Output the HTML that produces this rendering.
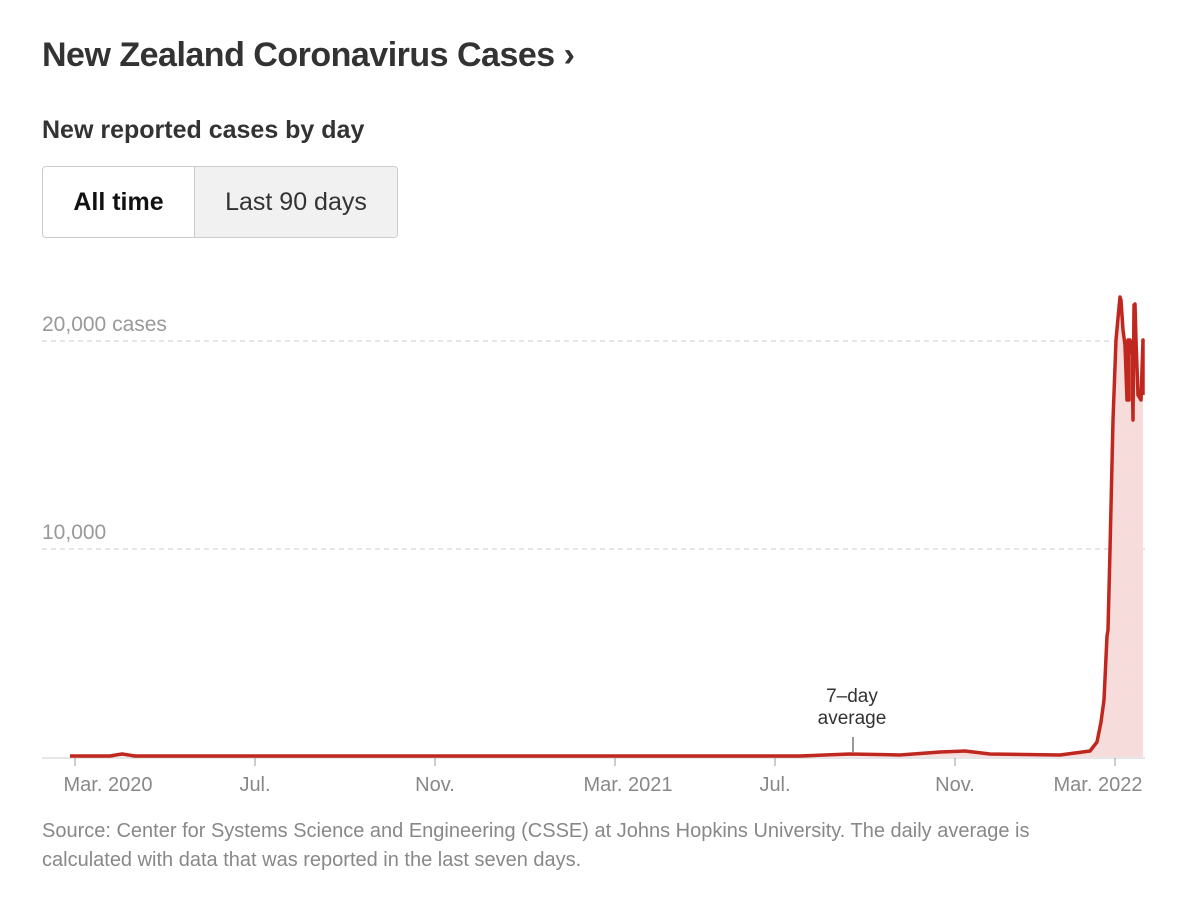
<!DOCTYPE html>
<html><head><meta charset="utf-8"><style>
body{margin:0;width:1200px;height:915px;background:#fff;position:relative;overflow:hidden;font-family:"Liberation Sans",sans-serif}
.t{position:absolute;left:42px;top:36px;font:bold 34px "Liberation Sans Narrow","Liberation Sans",sans-serif;color:#333;letter-spacing:-0.5px}
.s{position:absolute;left:42px;top:116px;font:bold 25px "Liberation Sans Narrow","Liberation Sans",sans-serif;color:#333}
.btns{position:absolute;left:42px;top:166px;width:356px;height:72px;border:1.5px solid #ccc;border-radius:4px;box-sizing:border-box;display:flex;overflow:hidden}
.b1{width:151px;border-right:1.5px solid #ccc;display:flex;align-items:center;justify-content:center;font:bold 25px "Liberation Sans Narrow","Liberation Sans",sans-serif;color:#111}
.b2{flex:1;background:#f1f1f1;display:flex;align-items:center;justify-content:center;font:25px "Liberation Sans Narrow","Liberation Sans",sans-serif;color:#333}
.src{position:absolute;left:42px;top:817px;font:20px "Liberation Sans",sans-serif;color:#888;line-height:29px;width:1060px}
</style></head><body>
<div class="t">New Zealand Coronavirus Cases ›</div>
<div class="s">New reported cases by day</div>
<div class="btns"><div class="b1">All time</div><div class="b2">Last 90 days</div></div>
<svg width="1200" height="915" style="position:absolute;left:0;top:0">
<g font-family="Liberation Sans,sans-serif" font-size="21" fill="#999">
<text x="42" y="331">20,000 cases</text>
<text x="42" y="539">10,000</text>
</g>
<line x1="42" y1="341" x2="1145" y2="341" stroke="#ccc" stroke-dasharray="5,4"/>
<line x1="42" y1="549" x2="1145" y2="549" stroke="#ccc" stroke-dasharray="5,4"/>
<line x1="42" y1="758" x2="1145" y2="758" stroke="#ccc"/>
<path d="M70,756 L110,756 L122,754 L135,756 L800,756 L850,754 L900,755 L940,752 L965,751 L990,754 L1060,755 L1090,751 L1097,742 L1101,722 L1104,700 L1107,636 L1108,630 L1110,550 L1113,420 L1116,340 L1118,318 L1120,297 L1121,300 L1123,330 L1125,345 L1127,400 L1129,400 L1128,340 L1130,340 L1132,355 L1133,420 L1134,305 L1135,304 L1136,340 L1138,395 L1141,400 L1143,340 L1143,757 Z" fill="#f7dcdc"/>
<path d="M70,756 L110,756 L122,754 L135,756 L800,756 L850,754 L900,755 L940,752 L965,751 L990,754 L1060,755 L1090,751 L1097,742 L1101,722 L1104,700 L1107,636 L1108,630 L1110,550 L1113,420 L1116,340 L1118,318 L1120,297 L1121,300 L1123,330 L1125,345 L1127,400 L1129,400 L1128,340 L1130,340 L1132,355 L1133,420 L1134,305 L1135,304 L1136,340 L1138,395 L1141,400 L1143,340 L1143,395" fill="none" stroke="#c0281f" stroke-width="3.5" stroke-linejoin="round"/>
<line x1="853" y1="737" x2="853" y2="752" stroke="#333"/>
<g font-family="Liberation Sans,sans-serif" font-size="19" fill="#333" text-anchor="middle">
<text x="852" y="702">7–day</text><text x="852" y="724">average</text></g>
<g stroke="#999"><line x1="75" y1="758" x2="75" y2="766"/><line x1="255" y1="758" x2="255" y2="766"/><line x1="435" y1="758" x2="435" y2="766"/><line x1="615" y1="758" x2="615" y2="766"/><line x1="775" y1="758" x2="775" y2="766"/><line x1="955" y1="758" x2="955" y2="766"/><line x1="1115" y1="758" x2="1115" y2="766"/></g>
<g font-family="Liberation Sans,sans-serif" font-size="20" fill="#888" text-anchor="middle">
<text x="108" y="791">Mar. 2020</text><text x="255" y="791">Jul.</text><text x="435" y="791">Nov.</text><text x="628" y="791">Mar. 2021</text><text x="775" y="791">Jul.</text><text x="955" y="791">Nov.</text><text x="1098" y="791">Mar. 2022</text></g>
</svg>
<div class="src">Source: Center for Systems Science and Engineering (CSSE) at Johns Hopkins University. The daily average is calculated with data that was reported in the last seven days.</div>
</body></html>
